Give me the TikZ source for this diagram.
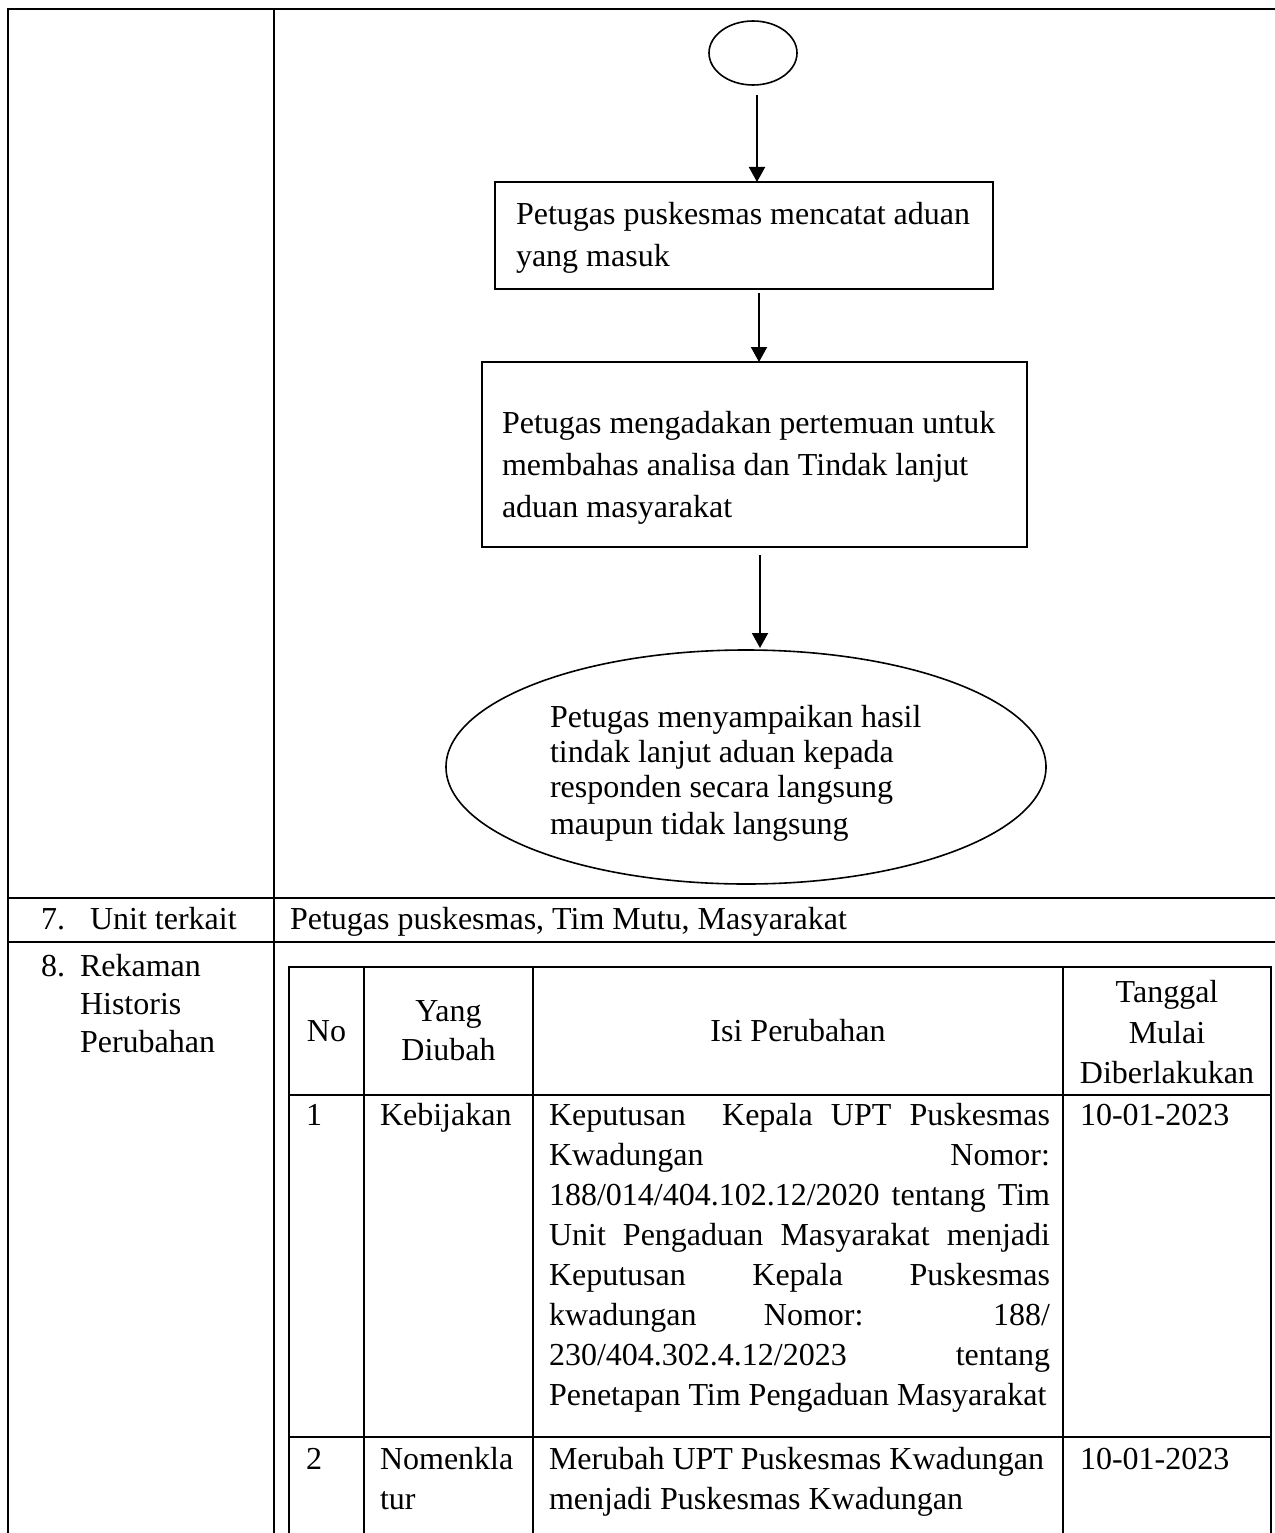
\documentclass[tikz,border=0pt]{standalone}
\usepackage{fontspec}
\setmainfont{Liberation Serif}
\usetikzlibrary{arrows.meta,shapes.geometric}
\begin{document}
\begin{tikzpicture}[x=1pt,y=-1pt,
  every node/.style={inner sep=0pt, outer sep=0pt, font=\fontsize{32}{40}\selectfont},
  txt/.style={anchor=base west},
  ctr/.style={anchor=base},
  outerline/.style={line width=2.6pt, line cap=rect},
  innerline/.style={line width=2pt, line cap=rect},
  procbox/.style={draw, line width=1.6pt, rectangle},
  termshape/.style={draw, line width=1.6pt, ellipse},
  flow/.style={line width=2pt, -{Triangle[length=15pt,width=16pt]}}
]
\useasboundingbox (0,0) rectangle (1274,1533);

% ---------- outer table ----------
\draw[outerline] (8,9) -- (1274,9);
\draw[outerline] (8,9) -- (8,1533);
\draw[outerline] (274,9) -- (274,1533);
\draw[outerline] (8,898) -- (1274,898);
\draw[outerline] (8,942) -- (1274,942);

% ---------- flowchart ----------
\node[termshape, minimum width=88pt, minimum height=64pt] (start) at (753,53) {};
\node[procbox, minimum width=498pt, minimum height=107pt] (b1) at (744,235.5) {};
\node[txt] (b1l1) at (516,225) {Petugas puskesmas mencatat aduan};
\node[txt] (b1l2) at (516,266) {yang masuk};

\node[procbox, minimum width=545pt, minimum height=185pt] (b2) at (754.5,454.5) {};
\node[txt] (b2l1) at (502,433) {Petugas mengadakan pertemuan untuk};
\node[txt] (b2l2) at (502,475) {membahas analisa dan Tindak lanjut};
\node[txt] (b2l3) at (502,517) {aduan masyarakat};

\node[termshape, minimum width=600pt, minimum height=234pt] (finish) at (746,767) {};
\node[txt] (e1) at (550,727) {Petugas menyampaikan hasil};
\node[txt] (e2) at (550,762) {tindak lanjut aduan kepada};
\node[txt] (e3) at (550,797) {responden secara langsung};
\node[txt] (e4) at (550,834) {maupun tidak langsung};

\draw[flow] ([xshift=4pt,yshift=-10pt]start.south) -- ([xshift=4pt]start.south |- b1.north);
\draw[flow] ([xshift=15pt,yshift=-4pt]b1.south) -- ([xshift=15pt]b1.south |- b2.north);
\draw[flow] ([xshift=5.5pt,yshift=-8pt]b2.south) -- ([xshift=5.5pt,yshift=2pt]b2.south |- finish.north);

% ---------- row 7 ----------
\node[txt] (n7) at (41,929) {7.};
\node[txt] (unit) at (90,929) {Unit terkait};
\node[txt] (unitval) at (290,929) {Petugas puskesmas, Tim Mutu, Masyarakat};

% ---------- row 8 ----------
\node[txt] (n8) at (41,976) {8.};
\node[txt] (rek1) at (80,976) {Rekaman};
\node[txt] (rek2) at (80,1014) {Historis};
\node[txt] (rek3) at (80,1052) {Perubahan};

% inner table
\draw[innerline] (289,967) -- (1271,967);
\draw[innerline] (289,1095) -- (1271,1095);
\draw[innerline] (289,1437) -- (1271,1437);
\draw[innerline] (289,967) -- (289,1533);
\draw[innerline] (364,967) -- (364,1533);
\draw[innerline] (533,967) -- (533,1533);
\draw[innerline] (1063,967) -- (1063,1533);
\draw[innerline] (1271,967) -- (1271,1533);

% header
\node[ctr] (hno) at (326.5,1041) {No};
\node[ctr] (hy1) at (448.5,1021) {Yang};
\node[ctr] (hy2) at (448.5,1060) {Diubah};
\node[ctr] (hisi) at (798,1041) {Isi Perubahan};
\node[ctr] (ht1) at (1167,1002) {Tanggal};
\node[ctr] (ht2) at (1167,1043) {Mulai};
\node[ctr] (ht3) at (1167,1083) {Diberlakukan};

% row 1
\node[txt] (r1no) at (306,1125) {1};
\node[txt] (r1y) at (380,1125) {Kebijakan};
\node[txt] (r1i1) at (549,1125) {\makebox[501pt][s]{Keputusan\ \ Kepala UPT Puskesmas}};
\node[txt] (r1i2) at (549,1165) {\makebox[501pt][s]{Kwadungan Nomor:}};
\node[txt] (r1i3) at (549,1205) {\makebox[501pt][s]{188/014/404.102.12/2020 tentang Tim}};
\node[txt] (r1i4) at (549,1245) {\makebox[501pt][s]{Unit Pengaduan Masyarakat menjadi}};
\node[txt] (r1i5) at (549,1285) {\makebox[501pt][s]{Keputusan Kepala Puskesmas}};
\node[txt] (r1i6) at (549,1325) {\makebox[501pt][s]{kwadungan Nomor: 188/}};
\node[txt] (r1i7) at (549,1365) {\makebox[501pt][s]{230/404.302.4.12/2023 tentang}};
\node[txt] (r1i8) at (549,1405) {Penetapan Tim Pengaduan Masyarakat};
\node[txt] (r1d) at (1080,1125) {10-01-2023};

% row 2
\node[txt] (r2no) at (306,1469) {2};
\node[txt] (r2y1) at (380,1469) {Nomenkla};
\node[txt] (r2y2) at (380,1509) {tur};
\node[txt] (r2i1) at (549,1469) {Merubah UPT Puskesmas Kwadungan};
\node[txt] (r2i2) at (549,1509) {menjadi Puskesmas Kwadungan};
\node[txt] (r2d) at (1080,1469) {10-01-2023};
\end{tikzpicture}
\end{document}
